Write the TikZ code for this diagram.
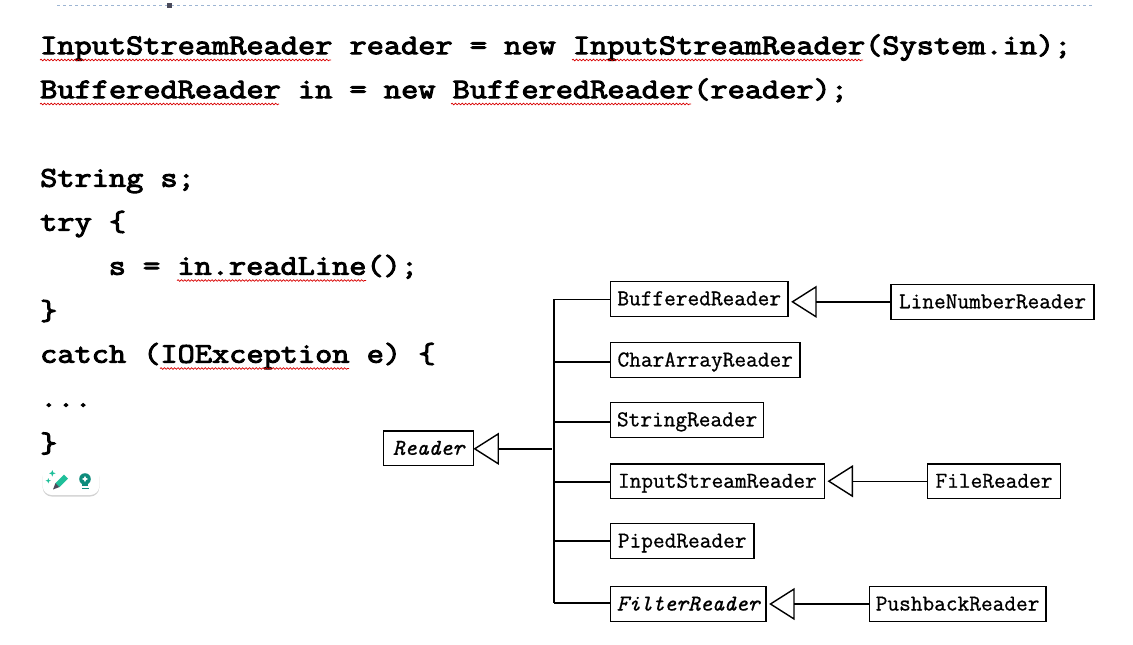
\documentclass[tikz,border=0pt]{standalone}
\usepackage{fontspec}
\newfontfamily\codefont{Latin Modern Mono}[FakeStretch=1.171,FakeBold=3.5]
\newfontfamily\classfont{Latin Modern Mono}[FakeBold=0.8]
\usetikzlibrary{arrows.meta,decorations.pathmorphing,shadows}
\definecolor{guideblue}{HTML}{9DB5D3}
\definecolor{handlegray}{HTML}{4A4A5A}
\definecolor{pencilteal}{HTML}{1FBF9A}
\definecolor{bulbteal}{HTML}{0E8C7C}
\begin{document}
\begin{tikzpicture}[x=1pt,y=-1pt]
	\tikzstyle{code}=[anchor=base west,inner sep=0pt,font=\codefont\fontsize{28.5}{30}\selectfont]
	\tikzstyle{classbox}=[draw,line width=1.4pt,inner sep=0pt,minimum height=34.8pt,text height=14pt,text depth=1pt,font=\classfont\fontsize{22.7}{24}\selectfont]
	\tikzstyle{edge}=[draw,line width=1.4pt]
	\tikzstyle{inherit}=[edge,-{Triangle[open,length=25.5pt,width=32pt,line width=1.4pt]},shorten >=2.5pt]
	\tikzstyle{squiggle}=[draw=red!85!black,line width=0.7pt,decorate,decoration={snake,amplitude=0.8pt,segment length=3.4pt}]
	\useasboundingbox[fill=white] (0,0) rectangle (1133,645);

	\draw[guideblue,line width=0.8pt,dashed] (57,5) -- (1093,5);
	\fill[handlegray] (166.5,2.5) rectangle (172,7.5);

	% code on the left
	\node [code] (line1) at (40,54.2) {InputStreamReader reader = new InputStreamReader(System.in);};
	\node [code] (line2) at (40,98.2) {BufferedReader in = new BufferedReader(reader);};
	\node [code] (line3) at (40,186.7) {String s;};
	\node [code] (line4) at (40,230.7) {try \{};
	\node [code] (line5) at (108.5,274.7) {s = in.readLine();};
	\node [code] (line6) at (40,319.7) {\}};
	\node [code] (line7) at (40,362.7) {catch (IOException e) \{};
	\node [code] (line8) at (40,406.7) {...};
	\node [code] (line9) at (40,452.2) {\}};

	\draw[squiggle] (40,60) -- (331,60);
	\draw[squiggle] (572,60) -- (863,60);
	\draw[squiggle] (40,104) -- (279,104);
	\draw[squiggle] (451,104) -- (691,104);
	\draw[squiggle] (177,280.5) -- (366,280.5);
	\draw[squiggle] (160,368.5) -- (349,368.5);

	% the little toolbar
	\fill[white,rounded corners=9pt,drop shadow={shadow xshift=0pt,shadow yshift=-1.5pt,opacity=0.35}] (42.7,466.7) rectangle (99.3,495);
	\fill[pencilteal] (55.5,483) -- (64,474.5) -- (68,478.5) -- (59.5,487) -- cycle;
	\fill[handlegray] (55.5,483) -- (59.5,487) -- (53,489.5) -- cycle;
	\fill[pencilteal] (52.3,470) -- (53.2,472.4) -- (55.6,473.3) -- (53.2,474.2) -- (52.3,476.6) -- (51.4,474.2) -- (49,473.3) -- (51.4,472.4) -- cycle;
	\fill[pencilteal] (48.3,478) -- (49,480) -- (51,480.7) -- (49,481.4) -- (48.3,483.4) -- (47.6,481.4) -- (45.6,480.7) -- (47.6,480) -- cycle;
	\fill[bulbteal] (85,479) circle (5.8);
	\fill[bulbteal] (82,483) rectangle (88,486);
	\fill[bulbteal] (81.5,487.5) rectangle (88.5,489.3);
	\fill[white] (85,475.8) -- (86,478) -- (88.2,479) -- (86,480) -- (85,482.2) -- (84,480) -- (81.8,479) -- (84,478) -- cycle;

	% class boxes
	\node [classbox,minimum width=90.2pt] (reader) at (428.6,448.3) {\itshape Reader};
	\node [classbox,minimum width=177.5pt] (buffered) at (699.2,298.8) {BufferedReader};
	\node [classbox,minimum width=189.5pt] (chararray) at (705.2,360) {CharArrayReader};
	\node [classbox,minimum width=153.2pt] (string) at (687.1,419.8) {StringReader};
	\node [classbox,minimum width=213.8pt] (inputstream) at (717.4,481.2) {InputStreamReader};
	\node [classbox,minimum width=143.5pt] (piped) at (682.2,541) {PipedReader};
	\node [classbox,minimum width=155.5pt] (filter) at (688.2,604) {\itshape FilterReader};
	\node [classbox,minimum width=203pt] (linenumber) at (992.5,301.8) {LineNumberReader};
	\node [classbox,minimum width=133.4pt] (file) at (994,481.2) {FileReader};
	\node [classbox,minimum width=176.7pt] (pushback) at (957.6,604) {PushbackReader};

	\coordinate (trunktop) at (554,299.3);
	\coordinate (trunkbot) at (554,603);
	\coordinate (trunkmid) at (552,448.8);

	\path[edge] (trunktop) -- (trunkbot);
	\foreach \n/\y in {buffered/299.3,chararray/362,string/422,inputstream/482,piped/541,filter/603}
		\path[edge] (\n.west |- 0,\y) -- (trunktop |- 0,\y);

	\path[inherit,shorten >=-1pt] (trunkmid) -- (reader.east |- trunkmid);
	\path[inherit] (linenumber.west) -- (buffered.east |- linenumber.west);
	\path[inherit] (file.west) -- (inputstream.east |- file.west);
	\path[inherit] (pushback.west) -- (filter.east |- pushback.west);
\end{tikzpicture}
\end{document}
